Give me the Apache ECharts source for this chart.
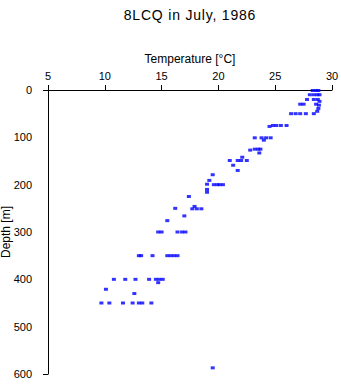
<!DOCTYPE html>
<html>
<head>
<meta charset="utf-8">
<script src="https://cdn.jsdelivr.net/npm/echarts@6/dist/echarts.min.js"></script>
<style>
html,body{margin:0;padding:0;background:#fff;}
#chart{width:341px;height:384px;}
#chart svg text[style*="14px"]{letter-spacing:0.8px;}
</style>
</head>
<body>
<div id="chart"></div>
<script>
const titleText = "8LCQ in July, 1986";
const xName = "Temperature [°C]";
const yName = "Depth [m]";
const xTicks = [5, 10, 15, 20, 25, 30];
const yTicks = [0, 100, 200, 300, 400, 500, 600];

const temperature = [
  28.3, 28.6, 28.8,
  28.05, 28.4, 28.7, 28.9,
  27.8, 28.4, 28.75, 28.9,
  27.2, 27.5, 28.6, 28.85,
  28.8, 28.7,
  26.4, 26.8, 27.2, 27.7, 28.4,
  24.5, 24.8, 25.1, 25.5, 26.0,
  23.2, 23.8, 24.0, 24.2, 24.6,
  22.8, 23.2, 23.5, 23.7, 23.6,
  21.0, 21.7, 22.0, 22.1, 22.5,
  21.3, 21.7, 19.5, 19.2,
  19.0, 19.6, 19.9, 20.1, 20.4,
  19.0, 19.0,
  17.4,
  16.2, 17.9, 17.7, 18.1, 18.5,
  17.0, 15.5,
  14.7, 15.0, 16.4, 16.8, 17.1,
  13.0, 13.2, 14.2, 15.5, 15.8, 16.1, 16.4,
  10.8, 11.8, 12.7, 13.9, 14.5, 14.8, 15.1, 14.7,
  10.1, 12.6,
  9.7, 10.4, 11.6, 12.45, 13.0, 13.3, 14.1,
  19.5
];
const depth = [
  1, 1, 1,
  10, 10, 10, 10,
  20, 20, 20, 24,
  30, 30, 30, 32,
  39, 45,
  50, 50, 50, 50, 50,
  77, 75, 75, 75, 75,
  101, 101, 106, 101, 101,
  127, 125, 125, 125, 133,
  149, 149, 149, 142, 149,
  159, 170, 179, 191,
  199, 200, 200, 200, 200,
  210, 216,
  225,
  250, 246, 251, 251, 251,
  266, 276,
  300, 300, 300, 300, 300,
  350, 350, 350, 350, 350, 350, 350,
  400, 400, 400, 400, 400, 400, 400, 407,
  421, 430,
  450, 450, 450, 450, 450, 450, 450,
  587
];

const points = temperature.map((t, i) => [t, depth[i]]);
const FONT = "'Liberation Sans', Arial, sans-serif";

const chart = echarts.init(document.getElementById('chart'), null, {renderer: 'svg'});
chart.setOption({
  animation: false,
  backgroundColor: '#ffffff',
  title: {
    text: titleText,
    left: 185,
    textAlign: 'center',
    top: 3,
    textStyle: {fontFamily: FONT, fontSize: 14, fontWeight: 'normal', color: '#000'}
  },
  grid: {left: 48, right: 9, top: 90, bottom: 10, containLabel: false, outerBoundsMode: 'none'},
  xAxis: {
    type: 'value', position: 'top',
    min: xTicks[0], max: xTicks[xTicks.length - 1], interval: 5,
    name: xName, nameLocation: 'middle', nameGap: 24,
    nameTextStyle: {fontFamily: FONT, fontSize: 12, color: '#000'},
    axisLine: {show: true, lineStyle: {color: '#000', width: 1}},
    axisTick: {show: true, inside: false, length: 5, lineStyle: {color: '#000'}},
    axisLabel: {show: true, margin: 9, fontFamily: FONT, fontSize: 11, color: '#000'},
    splitLine: {show: false}
  },
  yAxis: [{
    type: 'value', inverse: true,
    min: yTicks[0], max: yTicks[yTicks.length - 1], interval: 100,
    name: yName, nameLocation: 'middle', nameGap: 36, nameRotate: 90,
    nameMoveOverlap: false,
    nameTextStyle: {fontFamily: FONT, fontSize: 12, color: '#000'},
    axisLine: {show: true, lineStyle: {color: '#000', width: 1}},
    axisTick: {show: false},
    axisLabel: {show: true, margin: 16, fontFamily: FONT, fontSize: 11, color: '#000'},
    splitLine: {show: false}
  }, {
    type: 'value', inverse: true, position: 'left',
    min: yTicks[0], max: yTicks[yTicks.length - 1], interval: 600,
    axisLine: {show: false},
    axisTick: {show: true, length: 5, lineStyle: {color: '#000'}},
    axisLabel: {show: false},
    splitLine: {show: false}
  }],
  series: [{
    type: 'scatter',
    data: points,
    symbol: 'rect',
    symbolSize: [4, 3],
    itemStyle: {color: '#0000ff'}
  }]
});
</script>
</body>
</html>
